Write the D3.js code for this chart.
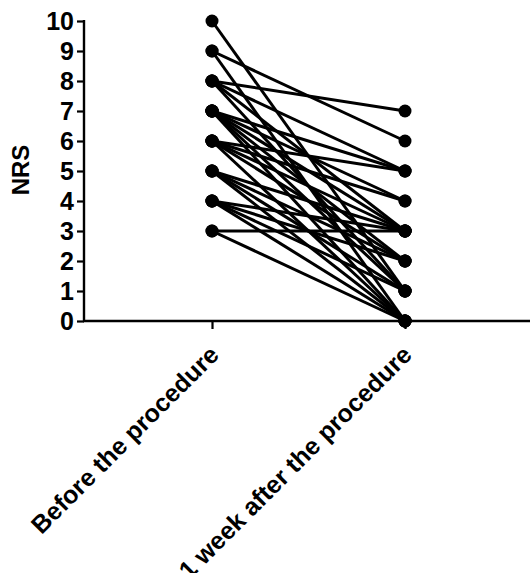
<!DOCTYPE html>
<html><head><meta charset="utf-8">
<script src="https://cdn.jsdelivr.net/npm/d3@7"></script>
<style>body{margin:0;background:#fff}svg{display:block}</style>
</head><body><svg id="c" width="530" height="573"></svg>
<script>
const categories = ["Before the procedure", "1 week after the procedure"];
const beforeValues = [10, 9, 9, 8, 8, 8, 8, 7, 7, 7, 7, 7, 7, 6, 6, 6, 6, 6, 5, 5, 5, 5, 4, 4, 4, 4, 3, 3];
const afterValues  = [1, 6, 0, 7, 5, 3, 1, 5, 4, 3, 2, 0, 1, 5, 3, 2, 0, 4, 3, 2, 0, 1, 3, 2, 0, 1, 3, 0];
const yTicks = [0,1,2,3,4,5,6,7,8,9,10];
const yLabel = "NRS";

const svg = d3.select("#c");
const font = "'Liberation Sans', Arial, sans-serif";
const y = d3.scaleLinear().domain([0,10]).range([321,21]);
const x = d3.scalePoint().domain(categories).range([212,405]);

const pairs = beforeValues.map((b,i)=>({b, a: afterValues[i]}));

svg.append("g").selectAll("line").data(pairs).join("line")
  .attr("x1", x(categories[0])).attr("x2", x(categories[1]))
  .attr("y1", d=>y(d.b)).attr("y2", d=>y(d.a))
  .attr("stroke","#000").attr("stroke-width",3);

const dots = [];
pairs.forEach(p=>{dots.push([categories[0],p.b]);dots.push([categories[1],p.a]);});
svg.append("g").selectAll("circle").data(dots).join("circle")
  .attr("cx", d=>x(d[0])).attr("cy", d=>y(d[1])).attr("r",6.5).attr("fill","#000");

const yAxis = svg.append("g").attr("transform","translate(84,0)")
  .call(d3.axisLeft(y).tickValues(yTicks).tickSize(7).tickPadding(3).tickFormat(d3.format("d")));
yAxis.select(".domain").attr("stroke-width",2.4).attr("d","M0,20V322");
yAxis.selectAll(".tick line").attr("stroke-width",2.2);
yAxis.selectAll("text").attr("font-family",font).attr("font-weight","bold").attr("font-size",25).attr("fill","#000");

const xAxis = svg.append("g").attr("transform","translate(0,321)")
  .call(d3.axisBottom(x).tickSize(8).tickFormat(""));
xAxis.select(".domain").attr("stroke-width",2.4).attr("d","M83,0H530");
xAxis.selectAll(".tick line").attr("stroke-width",2.2);
xAxis.selectAll(".tick text").remove();

svg.append("g").selectAll("text").data(categories).join("text")
  .attr("transform", d=>`translate(${x(d)-4},${344}) rotate(-45)`)
  .attr("text-anchor","end").attr("dy","0.7em")
  .attr("font-family",font).attr("font-weight","bold").attr("font-size",25)
  .text(d=>d);

svg.append("text").attr("transform","translate(29,170) rotate(-90)")
  .attr("text-anchor","middle").attr("font-family",font).attr("font-weight","bold")
  .attr("font-size",24).text(yLabel);
</script></body></html>
